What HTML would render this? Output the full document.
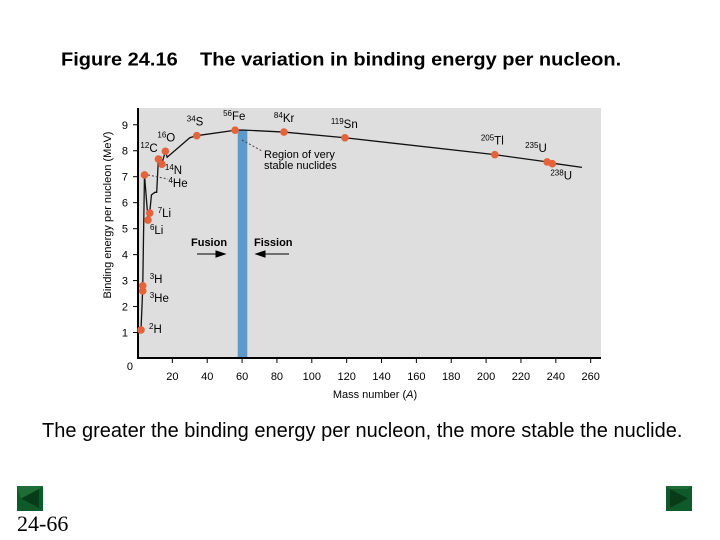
<!DOCTYPE html>
<html><head><meta charset="utf-8"><style>
html,body{margin:0;padding:0;background:#fff;width:720px;height:540px;overflow:hidden;font-family:"Liberation Sans",Arial,sans-serif}
.t{position:absolute;white-space:nowrap;color:#000}
</style></head><body>
<div class="t" style="left:61px;top:50px;font-size:20px;font-weight:bold;transform:scaleY(0.92);transform-origin:0 0">Figure 24.16</div>
<div class="t" style="left:200px;top:50px;font-size:20px;font-weight:bold;transform:scaleY(0.92);transform-origin:0 0">The variation in binding energy per nucleon.</div>
<svg width="720" height="540" style="position:absolute;left:0;top:0" id="chart"></svg>
<div class="t" style="left:42px;top:420px;font-size:20px">The greater the binding energy per nucleon, the more stable the nuclide.</div>
<div class="t" style="left:17px;top:511px;font-size:22px;font-family:'Liberation Serif',serif">24-66</div>
<svg width="26" height="25" style="position:absolute;left:17px;top:486px">
<rect width="26" height="25" fill="#0f5a2a"/><polygon points="4,12.5 22,3 22,22" fill="#083c18"/><polygon points="0,0 26,0 22,3 4,12.5" fill="#2a7a40" opacity="0.6"/></svg>
<svg width="26" height="25" style="position:absolute;left:666px;top:486px">
<rect width="26" height="25" fill="#0f5a2a"/><polygon points="22,12.5 4,3 4,22" fill="#083c18"/><polygon points="0,0 26,0 22,3 4,3" fill="#2a7a40" opacity="0.6"/></svg>
<script>
const isoA=[2,3,3,4,6,7,12,14,16,34,56,84,119,205,235,238];
const isoBE=[1.1,2.8,2.6,7.07,5.33,5.6,7.68,7.48,7.98,8.58,8.79,8.72,8.5,7.85,7.57,7.5];
const isoSup=["2","3","3","4","6","7","12","14","16","34","56","84","119","205","235","238"];
const isoSym=["H","H","He","He","Li","Li","C","N","O","S","Fe","Kr","Sn","Tl","U","U"];
const curveA=[2,3,4,6,7,8,10,11,12,14,16,17,30,34,56,60,84,119,205,235,238,255];
const curveBE=[1.1,2.7,7.07,5.4,5.6,6.3,6.4,6.4,7.68,7.5,7.98,7.75,8.5,8.58,8.79,8.8,8.72,8.5,7.85,7.57,7.52,7.36];
const xTicks=[20,40,60,80,100,120,140,160,180,200,220,240,260];
const yTicks=[1,2,3,4,5,6,7,8,9];
const X=a=>137.5+1.743*a, Y=v=>358.5-25.97*v;
const ns="http://www.w3.org/2000/svg", svg=document.getElementById('chart');
function mk(tag,at,txt){const e=document.createElementNS(ns,tag);for(const k in at)e.setAttribute(k,at[k]);if(txt!==undefined)e.textContent=txt;svg.appendChild(e);return e;}
let e;
e=mk('rect',{x:138,y:108,width:463,height:250,fill:'#dedede'});


e=mk('rect',{x:X(57.5),y:130,width:X(63)-X(57.5),height:228,fill:'#5b9acb'});


e=mk('line',{x1:138,y1:108,x2:138,y2:359,stroke:'#000','stroke-width':2});


e=mk('line',{x1:137,y1:358,x2:601,y2:358,stroke:'#000','stroke-width':2});


yTicks.forEach(v=>{
 e=mk('line',{x1:133,y1:Y(v),x2:138,y2:Y(v),stroke:'#000'});
 
 
 e=mk('text',{x:128,y:Y(v)+4,'font-size':11,'text-anchor':'end','font-family':'Liberation Sans'},v);
 
 
});
e=mk('text',{x:133,y:370,'font-size':11,'text-anchor':'end','font-family':'Liberation Sans'},'0');


xTicks.forEach(v=>{
 e=mk('line',{x1:X(v),y1:358,x2:X(v),y2:363,stroke:'#000'});
 
 
 e=mk('text',{x:X(v),y:380,'font-size':11,'text-anchor':'middle','font-family':'Liberation Sans'},v);
 
 
});
e=mk('text',{x:375,y:398,'font-size':11,'text-anchor':'middle','font-family':'Liberation Sans'});
e.innerHTML='Mass number (<tspan font-style="italic">A</tspan>)';


e=mk('text',{x:0,y:0,'font-size':11,'text-anchor':'middle','font-family':'Liberation Sans',transform:'translate(111,215) rotate(-90)'},'Binding energy per nucleon (MeV)');


e=mk('polyline',{points:curveA.map((a,i)=>X(a)+','+Y(curveBE[i])).join(' '),fill:'none',stroke:'#111','stroke-width':1.3});


const lo={H2:[8,3],H3:[7,-3],He3:[7,11],He4:[24,12],Li6:[2,14],Li7:[8,4],C12:[-18,-7],N14:[3,10],O16:[-8,-10],S34:[-10,-10],Fe56:[-12,-10],Kr84:[-10,-10],Sn119:[-14,-10],Tl205:[-14,-10],U235:[-22,-10],U238:[-2,16]};
isoA.forEach((a,i)=>{
 e=mk('circle',{cx:X(a),cy:Y(isoBE[i]),r:3.8,fill:'#e4633a'});
 
 
 const o=lo[isoSym[i]+isoSup[i]]||[5,-5];
 e=mk('text',{x:X(a)+o[0],y:Y(isoBE[i])+o[1],'font-size':11.5,'font-family':'Liberation Sans'});
 e.innerHTML='<tspan font-size="8" dy="-4">'+isoSup[i]+'</tspan><tspan dy="4">'+isoSym[i]+'</tspan>';
 
 
});
e=mk('line',{x1:148,y1:175,x2:168,y2:179,stroke:'#444','stroke-dasharray':'2,2'});


e=mk('line',{x1:242,y1:140,x2:262,y2:151,stroke:'#444','stroke-dasharray':'2,2'});


e=mk('text',{x:264,y:158,'font-size':11,'font-family':'Liberation Sans'},'Region of very');


e=mk('text',{x:264,y:169,'font-size':11,'font-family':'Liberation Sans'},'stable nuclides');


e=mk('text',{x:191,y:246,'font-size':11,'font-weight':'bold','font-family':'Liberation Sans'},'Fusion');


e=mk('text',{x:254,y:246,'font-size':11,'font-weight':'bold','font-family':'Liberation Sans'},'Fission');


e=mk('path',{d:'M197,254 H225 M225,254 l-9,-3 v6 z',stroke:'#000',fill:'#000'});


e=mk('path',{d:'M289,254 H256 M256,254 l9,-3 v6 z',stroke:'#000',fill:'#000'});


</script>
</body></html>
